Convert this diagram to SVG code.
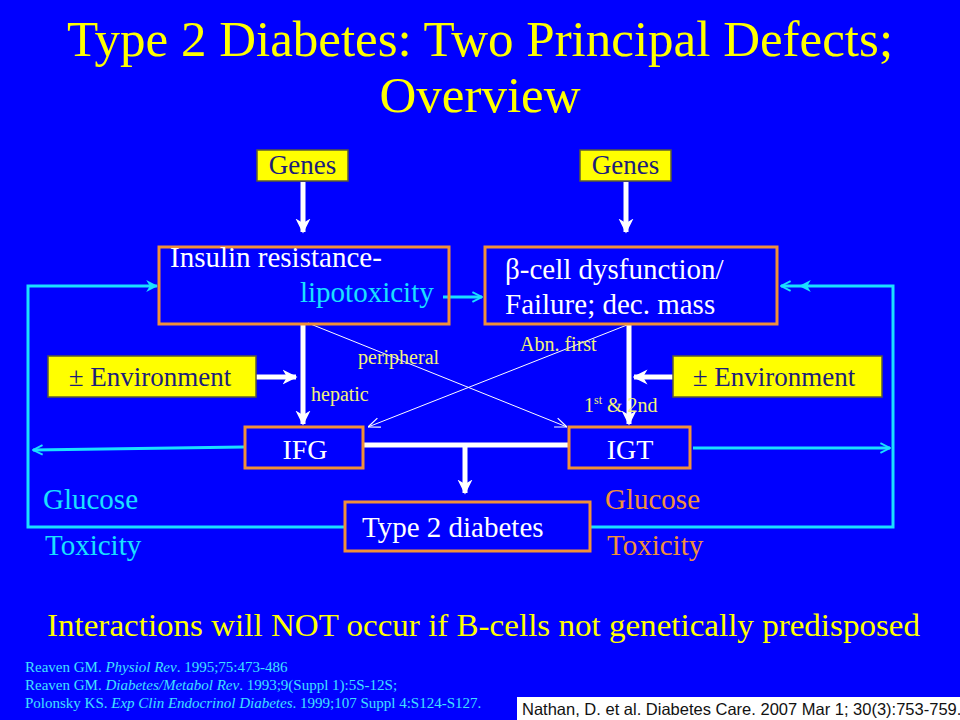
<svg xmlns="http://www.w3.org/2000/svg" width="960" height="720" viewBox="0 0 960 720">
<defs>
<style>
.serif{font-family:"Liberation Serif","Times New Roman",serif}
.ybox{fill:#FFFF00;stroke:#5a5a3a;stroke-width:1.5}
.obox{fill:none;stroke:#F0903A;stroke-width:3}
.dark{fill:#1C1C7A}
.wt{fill:#FFFFFF}
.lbl{fill:#F2F27A;font-size:20px}
.cy{stroke:#1AE0FF;stroke-width:3;fill:none}
.thick{stroke:#FFFFFF;stroke-width:5;fill:none}
.thin{stroke:#FFFFFF;stroke-width:1;fill:none}
</style>
<marker id="wh" viewBox="0 0 10 10" refX="9" refY="5" markerWidth="3" markerHeight="3.6" orient="auto" markerUnits="strokeWidth">
<path d="M0,0 L10,5 L0,10 L3,5 Z" fill="#FFFFFF"/>
</marker>
<marker id="open" viewBox="0 0 10 10" refX="10" refY="5" markerWidth="12" markerHeight="12" orient="auto" markerUnits="userSpaceOnUse">
<path d="M0,1 L10,5 L0,9" fill="none" stroke="#FFFFFF" stroke-width="1"/>
</marker>
<marker id="cyf" viewBox="0 0 10 10" refX="9" refY="5" markerWidth="4" markerHeight="4" orient="auto" markerUnits="strokeWidth">
<path d="M0,0 L10,5 L0,10 L3,5 Z" fill="#1AE0FF"/>
</marker>
<marker id="cyo" viewBox="0 0 10 10" refX="9" refY="5" markerWidth="4" markerHeight="4.5" orient="auto" markerUnits="strokeWidth">
<path d="M1,1 L9,5 L1,9" fill="none" stroke="#1AE0FF" stroke-width="1.6"/>
</marker>
</defs>
<rect x="0" y="0" width="960" height="720" fill="#0000FF"/>

<g id="title" class="serif" fill="#FFFF00" font-size="51" text-anchor="middle">
<text x="480" y="56">Type 2 Diabetes: Two Principal Defects;</text>
<text x="480" y="112">Overview</text>
</g>

<g id="connectors">
<line class="thick" x1="303" y1="182" x2="303" y2="232" stroke-width="3" marker-end="url(#wh)"/>
<line class="thick" x1="626" y1="182" x2="626" y2="232" stroke-width="3" marker-end="url(#wh)"/>
<line class="thick" x1="303" y1="325" x2="303" y2="424" stroke-width="6" marker-end="url(#wh)"/>
<line class="thick" x1="629" y1="325" x2="629" y2="424" stroke-width="6" marker-end="url(#wh)"/>
<line class="thick" x1="256" y1="377" x2="296" y2="377" stroke-width="4" marker-end="url(#wh)"/>
<line class="thick" x1="673" y1="377" x2="634" y2="377" stroke-width="4" marker-end="url(#wh)"/>
<line class="thick" x1="363" y1="445" x2="569" y2="445" stroke-width="6"/>
<line class="thick" x1="465" y1="445" x2="465" y2="493" stroke-width="6" marker-end="url(#wh)"/>
<line class="thin" x1="308" y1="323" x2="567" y2="427" marker-end="url(#open)"/>
<line class="thin" x1="627" y1="325" x2="368" y2="427" marker-end="url(#open)"/>
<polyline class="cy" points="345,527 28,527 28,286 157,286" marker-end="url(#cyf)"/>
<polyline class="cy" points="590,527 893,527 893,286 800,286" marker-end="url(#cyf)"/>
<line class="cy" x1="800" y1="286" x2="781" y2="286" stroke-width="1.2" marker-end="url(#cyo)" />
<line class="cy" x1="244" y1="447" x2="33" y2="450" marker-end="url(#cyo)"/>
<line class="cy" x1="693" y1="448" x2="890" y2="448" marker-end="url(#cyo)"/>
<line class="cy" x1="443" y1="297" x2="482" y2="297" stroke-width="2" marker-end="url(#cyo)"/>
</g>

<g id="genes-left">
<rect class="ybox" x="257" y="150" width="91" height="31"/>
<text class="serif dark" x="302.5" y="174" font-size="27" text-anchor="middle">Genes</text>
</g>
<g id="genes-right">
<rect class="ybox" x="580" y="150" width="91" height="31"/>
<text class="serif dark" x="625.5" y="174" font-size="27" text-anchor="middle">Genes</text>
</g>

<g id="insulin-resistance">
<rect class="obox" x="159" y="247" width="290" height="77"/>
<text class="serif wt" x="170" y="267" font-size="29">Insulin resistance-</text>
<text class="serif" x="300" y="302" font-size="29" fill="#1AE0FF">lipotoxicity</text>
</g>

<g id="beta-cell">
<rect class="obox" x="485" y="247" width="292" height="77"/>
<text class="serif wt" x="505" y="279" font-size="29">β-cell dysfunction/</text>
<text class="serif wt" x="505" y="314" font-size="29">Failure; dec. mass</text>
</g>

<g id="env-left">
<rect class="ybox" x="48" y="356" width="208" height="41"/>
<text class="serif dark" x="150" y="386" font-size="27" text-anchor="middle">± Environment</text>
</g>
<g id="env-right">
<rect class="ybox" x="673" y="356" width="209" height="41"/>
<text class="serif dark" x="774" y="386" font-size="27" text-anchor="middle">± Environment</text>
</g>

<g id="ifg">
<rect class="obox" x="245" y="427" width="118" height="41"/>
<text class="serif wt" x="305" y="459" font-size="28" text-anchor="middle">IFG</text>
</g>
<g id="igt">
<rect class="obox" x="569" y="427" width="121" height="41"/>
<text class="serif wt" x="630" y="459" font-size="28" text-anchor="middle">IGT</text>
</g>

<g id="type2">
<rect class="obox" x="345" y="502" width="245" height="49"/>
<text class="serif wt" x="362" y="537" font-size="29">Type 2 diabetes</text>
</g>

<g id="labels" class="serif">
<text class="lbl" x="358" y="364">peripheral</text>
<text class="lbl" x="311" y="401">hepatic</text>
<text class="lbl" x="520" y="351">Abn. first</text>
<text class="lbl" x="584" y="412">1<tspan font-size="12" dy="-8">st</tspan><tspan dy="8"> &amp;  2nd</tspan></text>
<text x="43" y="509" font-size="29" fill="#1AE0FF">Glucose</text>
<text x="45" y="555" font-size="29" fill="#1AE0FF">Toxicity</text>
<text x="605" y="509" font-size="29" fill="#F0903A">Glucose</text>
<text x="607" y="555" font-size="29" fill="#F0903A">Toxicity</text>
</g>

<g id="note">
<text class="serif" x="47" y="636" font-size="31" fill="#FFFF00" textLength="873" lengthAdjust="spacingAndGlyphs">Interactions will NOT occur if B-cells not genetically predisposed</text>
</g>

<g id="references" class="serif" font-size="15" fill="#40E0FF">
<text x="25" y="672">Reaven GM. <tspan font-style="italic">Physiol Rev</tspan>. 1995;75:473-486</text>
<text x="25" y="690">Reaven GM. <tspan font-style="italic">Diabetes/Metabol Rev</tspan>. 1993;9(Suppl 1):5S-12S;</text>
<text x="25" y="708">Polonsky KS. <tspan font-style="italic">Exp Clin Endocrinol Diabetes</tspan>. 1999;107 Suppl 4:S124-S127.</text>
</g>

<g id="source">
<rect x="517" y="697" width="443" height="23" fill="#FFFFFF"/>
<text x="522" y="715" font-family="Liberation Sans, Arial, sans-serif" font-size="16.5" fill="#111111">Nathan, D. et al. Diabetes Care. 2007 Mar 1; 30(3):753-759.</text>
</g>
</svg>
